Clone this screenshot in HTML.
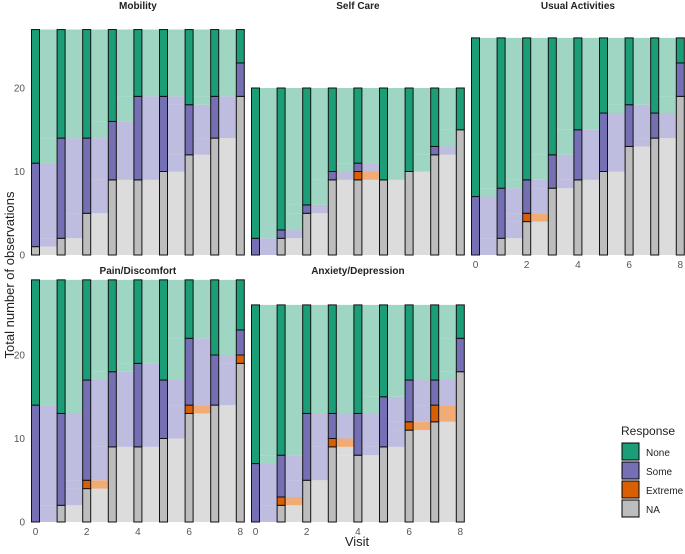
<!DOCTYPE html>
<html><head><meta charset="utf-8">
<style>
body{margin:0;background:#fff;font-family:"Liberation Sans",sans-serif;}
svg text{font-family:"Liberation Sans",sans-serif;}
</style></head>
<body>
<svg id="chart" width="685" height="549" viewBox="0 0 685 549" xmlns="http://www.w3.org/2000/svg">
<g id="panels"></g>
<text transform="translate(14,275) rotate(-90)" text-anchor="middle" font-size="13" fill="#222">Total number of observations</text>
<text x="357" y="546" text-anchor="middle" font-size="13" fill="#222">Visit</text>
<g>
<text x="621" y="435" font-size="12" fill="#222">Response</text>
<rect x="622" y="443" width="17" height="17" fill="#1b9e77" stroke="#000" stroke-width="1"/>
<text x="646" y="456" font-size="10" fill="#222">None</text>
<rect x="622" y="462" width="17" height="17" fill="#7570b3" stroke="#000" stroke-width="1"/>
<text x="646" y="475" font-size="10" fill="#222">Some</text>
<rect x="622" y="481" width="17" height="17" fill="#d95f02" stroke="#000" stroke-width="1"/>
<text x="646" y="494" font-size="10" fill="#222">Extreme</text>
<rect x="622" y="500" width="17" height="17" fill="#bdbdbd" stroke="#000" stroke-width="1"/>
<text x="646" y="513" font-size="10" fill="#222">NA</text>
</g>
</svg>
<script>
// stacking order bottom->top: NA, Extreme, Some, None
const categories = ["NA","Extreme","Some","None"];
const visits = [0,1,2,3,4,5,6,7,8];
const mobilityNA      = [1,2,5,9,9,10,12,14,19];
const mobilityExtreme = [0,0,0,0,0,0,0,0,0];
const mobilitySome    = [10,12,9,7,10,9,6,5,4];
const mobilityNone    = [16,13,13,11,8,8,9,8,4];
const selfcareNA      = [0,2,5,9,9,9,10,12,15];
const selfcareExtreme = [0,0,0,0,1,0,0,0,0];
const selfcareSome    = [2,1,1,1,1,0,0,1,0];
const selfcareNone    = [18,17,14,10,9,11,10,7,5];
const usualNA         = [0,2,4,8,9,10,13,14,19];
const usualExtreme    = [0,0,1,0,0,0,0,0,0];
const usualSome       = [7,6,4,4,6,7,5,3,4];
const usualNone       = [19,18,17,14,11,9,8,9,3];
const painNA          = [0,2,4,9,9,10,13,14,19];
const painExtreme     = [0,0,1,0,0,0,1,0,1];
const painSome        = [14,11,12,9,10,7,8,6,3];
const painNone        = [15,16,12,11,10,12,7,9,6];
const anxNA           = [0,2,5,9,8,9,11,12,18];
const anxExtreme      = [0,1,0,1,0,0,1,2,0];
const anxSome         = [7,5,8,3,5,6,5,3,4];
const anxNone         = [19,18,13,13,13,11,9,9,4];
const panelTitles = ["Mobility","Self Care","Usual Activities","Pain/Discomfort","Anxiety/Depression"];
const yTicks = [0,10,20];
const xTicks = [0,2,4,6,8];

const panelsData = [
  {series:[mobilityNA,mobilityExtreme,mobilitySome,mobilityNone], x0:35.5, y0:255, yt:true, xt:false},
  {series:[selfcareNA,selfcareExtreme,selfcareSome,selfcareNone], x0:255.5, y0:255, yt:false, xt:false},
  {series:[usualNA,usualExtreme,usualSome,usualNone], x0:475.5, y0:255, yt:false, xt:true},
  {series:[painNA,painExtreme,painSome,painNone], x0:35.5, y0:522, yt:true, xt:true},
  {series:[anxNA,anxExtreme,anxSome,anxNone], x0:255.5, y0:522, yt:false, xt:true}
];
const fills = ["#bdbdbd","#d95f02","#7570b3","#1b9e77"];
const flowFills = ["#d6d6d6","#ef9d5e","#b3b0d9","#8dcfb9"];
const unit = 8.35, step = 25.6, bw = 8;
const NS = "http://www.w3.org/2000/svg";
const root = document.getElementById("panels");
function mk(tag, attrs, parent){
  const e = document.createElementNS(NS, tag);
  for (const k in attrs) e.setAttribute(k, attrs[k]);
  parent.appendChild(e); return e;
}
panelsData.forEach((p, pi) => {
  const g = mk("g", {}, root);
  
  
  const xs = v => p.x0 + v*step;
  const ys = val => p.y0 - val*unit;
  const t = mk("text", {x: xs(4), y: (pi >= 3 ? 274 : 9), "text-anchor":"middle", "font-size":"10", "font-weight":"bold", fill:"#222"}, g);
  t.textContent = panelTitles[pi];
  
  
  for (let v = 0; v < visits.length - 1; v++) {
    const bl = [0], br = [0];
    for (let c = 0; c < 4; c++) { bl.push(bl[c] + p.series[c][v]); br.push(br[c] + p.series[c][v+1]); }
    const cuts = new Set(bl.concat(br));
    const arr = [...cuts].sort((a,b)=>a-b);
    const xa = xs(v) + bw/2, xb = xs(v+1) - bw/2, xm = (xa+xb)/2;
    for (let i = 0; i < arr.length - 1; i++) {
      const lo = arr[i], hi = arr[i+1];
      if (hi <= lo) continue;
      let c = 0; while (c < 3 && lo >= bl[c+1]) c++;
      const d = `M${xa},${ys(hi)} L${xb},${ys(hi)} L${xb},${ys(lo)} L${xa},${ys(lo)} Z`;
      const f = mk("path", {d: d, fill: flowFills[c], opacity: "0.85"}, g);
      
      
    }
  }
  visits.forEach((vv, v) => {
    let acc = 0;
    for (let c = 0; c < 4; c++) {
      const val = p.series[c][v];
      if (val > 0) {
        const r = mk("rect", {x: xs(v) - bw/2, y: ys(acc + val), width: bw, height: val*unit, fill: fills[c], stroke: "#111", "stroke-width": "1"}, g);
        
        
      }
      acc += val;
    }
  });
  if (p.yt) yTicks.forEach(tk => {
    const tt = mk("text", {x: 25, y: ys(tk) + 3.5, "text-anchor":"end", "font-size":"10", fill:"#555"}, g);
    tt.textContent = tk;
    
    
  });
  if (p.xt) xTicks.forEach(tk => {
    const tt = mk("text", {x: xs(tk), y: p.y0 + 13, "text-anchor":"middle", "font-size":"10", fill:"#555"}, g);
    tt.textContent = tk;
    
    
  });
});
</script>
</body></html>
